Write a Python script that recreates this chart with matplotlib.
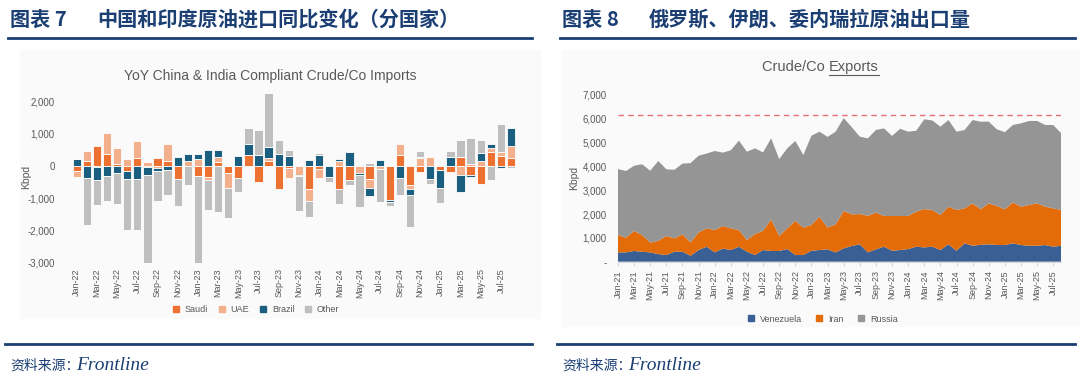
import numpy as np
import pandas as pd
import matplotlib
matplotlib.use("Agg")
import matplotlib.pyplot as plt
from matplotlib.lines import Line2D
from matplotlib.patches import Rectangle

# ---------- 图表7: 中国和印度原油进口同比变化 (kbpd, YoY) ----------
months_l = pd.date_range("2022-01-01", "2025-08-01", freq="MS").strftime("%b-%y").tolist()
saudi = [-150, 150, 620, 360, 60, -150, 250, -40, 230, 160, -410, 0,
         -300, -330, 110, -230, -360, 330, -490, 150, -720, -50, 0, -720,
         -90, 0, -730, -430, 0, -420, 0, -1050, 330, -590, -200, 0,
         -120, -200, 260, -280, -560, 440, 310, 240]
uae = [-180, 310, -40, 670, 490, 210, 515, 130, -60, 520, 0, 150,
       210, -120, 175, -460, 0, 0, 0, 90, 0, -330, -270, -380,
       -270, 0, 150, 0, -230, -260, -90, 0, 340, -130, 230, 260,
       0, 0, -280, 60, 150, 100, 130, 380]
brazil = [210, -380, -400, -300, -210, -260, -410, -250, -90, -120, 260, 210,
          150, 480, 200, 0, 310, 340, 330, 350, 380, 310, -50, 180,
          340, -330, 50, 440, -50, -250, 170, -70, -360, -180, 50, -410,
          -570, 260, -520, -60, 240, 150, -70, 550]
other = [0, -1440, -770, -780, -970, -1590, -1570, -2850, -930, -770, -830, -590,
         -2800, -930, -1440, -930, -450, 490, 780, 1680, 410, 170, -1090, -490,
         50, -160, -450, -150, -980, 80, -1030, -130, -540, -980, 180, -150,
         -460, 190, 550, 800, 410, -430, 850, -70]

# ---------- 图表8: 俄罗斯、伊朗、委内瑞拉原油出口量 (kbpd) ----------
months_r = pd.date_range("2021-01-01", "2025-08-01", freq="MS").strftime("%b-%y").tolist()
venezuela = [390, 390, 450, 420, 390, 320, 280, 420, 420, 250, 490, 630,
             390, 550, 490, 630, 420, 280, 490, 450, 450, 530, 280, 280,
             460, 490, 520, 390, 560, 660, 730, 390, 520, 630, 460, 490,
             530, 630, 600, 630, 490, 730, 460, 770, 670, 710, 730, 700,
             700, 770, 700, 670, 670, 700, 630, 670]
iran = [730, 620, 840, 700, 410, 560, 800, 560, 730, 560, 740, 770,
        940, 950, 910, 700, 490, 880, 810, 1330, 630, 870, 1440, 1150,
        1080, 1400, 910, 1180, 1570, 1330, 1270, 1540, 1540, 1290, 1460, 1430,
        1390, 1470, 1610, 1540, 1470, 1580, 1710, 1470, 1780, 1490, 1720, 1640,
        1500, 1720, 1610, 1710, 1780, 1610, 1610, 1500]
russia = [2770, 2800, 2740, 2970, 3020, 3350, 2800, 2880, 2970, 3330, 3220, 3140,
          3320, 3080, 3280, 3750, 3710, 3600, 3290, 3400, 3230, 3360, 3350, 3050,
          3750, 3570, 3810, 3890, 3900, 3660, 3250, 3250, 3470, 3680, 3360, 3660,
          3540, 3400, 3770, 3760, 3710, 3640, 3290, 3290, 3500, 3680, 3430, 3220,
          3240, 3250, 3500, 3530, 3460, 3430, 3500, 3220]
ref_level = 6150

TXT = "#595959"
NAVY = "#1B3F73"
W, H = 1080, 380

fig = plt.figure(figsize=(10.8, 3.8), dpi=100)
plt.rcParams["font.family"] = ["Liberation Sans", "DejaVu Sans"]
cjk = ["Noto Sans CJK SC", "DejaVu Sans"]


def fx(px):
    return px / W


def fy(py):
    return 1 - py / H


# panel backgrounds
fig.patches.append(Rectangle((fx(20), fy(318)), 520 / W, 268 / H, transform=fig.transFigure,
                             color="#FAFAFA", zorder=-10))
fig.patches.append(Rectangle((fx(562), fy(326)), 518 / W, 276 / H, transform=fig.transFigure,
                             color="#FAFAFA", zorder=-10))

# headers
for x0, num, title in [(10, "图表 7", "中国和印度原油进口同比变化（分国家）"),
                       (562, "图表 8", "俄罗斯、伊朗、委内瑞拉原油出口量")]:
    fig.text(fx(x0), fy(19), num, family=cjk, fontsize=14.5, fontweight="bold",
             color=NAVY, va="center")
    fig.text(fx(x0 + 87), fy(19), title, family=cjk, fontsize=14.5, fontweight="bold",
             color=NAVY, va="center")
    x1 = 532 if x0 < 500 else 1075
    fig.add_artist(Line2D([fx(x0 - 2), fx(x1)], [fy(38), fy(38)], color=NAVY, lw=2))
    fig.add_artist(Line2D([fx(x0 - 5), fx(x1)], [fy(344), fy(344)], color=NAVY, lw=2))
    fig.text(fx(x0), fy(366), "资料来源：", family=cjk, fontsize=10, color=NAVY, va="center")
    fig.text(fx(x0 + 66), fy(366), "Frontline", family=["Liberation Serif"], style="italic",
             fontsize=14, color=NAVY, va="center")

# ---------- left: stacked bars ----------
step_l = 10.1
xl0, xl1 = -0.8, 44.2
left_px = 76.7 + xl0 * step_l
right_px = 76.7 + xl1 * step_l
axl = fig.add_axes([fx(left_px), fy(262.7), (right_px - left_px) / W, (262.7 - 90.7) / H])
axl.set_facecolor("none")
x = np.arange(len(months_l))
series_l = [("Saudi", saudi, "#ED7232"), ("UAE", uae, "#F4B08C"),
            ("Brazil", brazil, "#1A5E80"), ("Other", other, "#BFBFBF")]
pos_base = np.zeros(len(x))
neg_base = np.zeros(len(x))
for name, vals, col in series_l:
    v = np.array(vals, dtype=float)
    base = np.where(v >= 0, pos_base, neg_base)
    axl.bar(x, v, bottom=base, width=0.82, color=col, edgecolor="white", linewidth=0.6)
    pos_base += np.clip(v, 0, None)
    neg_base += np.clip(v, None, 0)
axl.set_xlim(xl0, xl1)
axl.set_ylim(-3000, 2330)
axl.set_yticks(range(-3000, 2001, 1000))
axl.set_yticklabels([f"{v:,}" for v in range(-3000, 2001, 1000)])
axl.set_xticks(x[::2])
axl.set_xticklabels(months_l[::2], rotation=90)
axl.tick_params(axis="both", length=0, colors=TXT, labelsize=7)
axl.tick_params(axis="x", labelsize=6.5, pad=4)
axl.tick_params(axis="y", pad=10)
for s in axl.spines.values():
    s.set_visible(False)
axl.set_ylabel("Kbpd", color=TXT, fontsize=7.5)
axl.yaxis.set_label_coords(-0.082, 0.5)
fig.text(fx(270), fy(76), "YoY China & India Compliant Crude/Co Imports", ha="center",
         va="center", color=TXT, fontsize=10)
hl = [Line2D([], [], marker="s", ls="", color=c, markersize=4.5) for _, _, c in series_l]
fig.legend(hl, [n for n, _, _ in series_l], loc="center", bbox_to_anchor=(fx(253), fy(310)),
           ncol=4, frameon=False, fontsize=6.5, handletextpad=0.0, columnspacing=0.5,
           labelcolor=TXT)

# ---------- right: stacked area ----------
step_r = 8.06
axr = fig.add_axes([fx(618), fy(261.7), 55 * step_r / W, (261.7 - 95) / H])
axr.set_facecolor("none")
xr = np.arange(len(months_r))
series_r = [("Venezuela", venezuela, "#3A5F94"), ("Iran", iran, "#E36C09"),
            ("Russia", russia, "#959595")]
axr.stackplot(xr, *[v for _, v, _ in series_r], colors=[c for _, _, c in series_r], linewidth=0)
axr.axhline(ref_level, color="#E57373", lw=1, ls=(0, (4, 3)))
axr.set_xlim(0, len(months_r) - 1)
axr.set_ylim(0, 7000)
axr.set_yticks(range(0, 7001, 1000))
axr.set_yticklabels(["-"] + [f"{v:,}" for v in range(1000, 7001, 1000)])
axr.set_xticks(xr[::2])
axr.set_xticklabels(months_r[::2], rotation=90)
axr.tick_params(axis="y", length=0, colors=TXT, labelsize=7, pad=8)
axr.tick_params(axis="x", length=3, color="#D9D9D9", labelcolor=TXT, labelsize=6.5, pad=3)
for k, s in axr.spines.items():
    s.set_visible(k == "bottom")
axr.spines["bottom"].set_color("#D9D9D9")
axr.set_ylabel("Kbpd", color=TXT, fontsize=7.5)
axr.yaxis.set_label_coords(-0.088, 0.5)
t1 = fig.text(fx(829), fy(67), "Crude/Co ", ha="right", va="center", color=TXT, fontsize=10.5)
t2 = fig.text(fx(829), fy(67), "Exports", ha="left", va="center", color=TXT, fontsize=10.5)
fig.canvas.draw()
bb = t2.get_window_extent()
fig.add_artist(Line2D([bb.x0 / W, bb.x1 / W], [(bb.y0 - 1) / H, (bb.y0 - 1) / H],
                      color=TXT, lw=0.8))
hr = [Line2D([], [], marker="s", ls="", color=c, markersize=4.5) for _, _, c in series_r]
fig.legend(hr, [n for n, _, _ in series_r], loc="center", bbox_to_anchor=(fx(820), fy(319)),
           ncol=3, frameon=False, fontsize=6.5, handletextpad=0.0, columnspacing=0.9,
           labelcolor=TXT)

fig.savefig("out.png", dpi=100)
